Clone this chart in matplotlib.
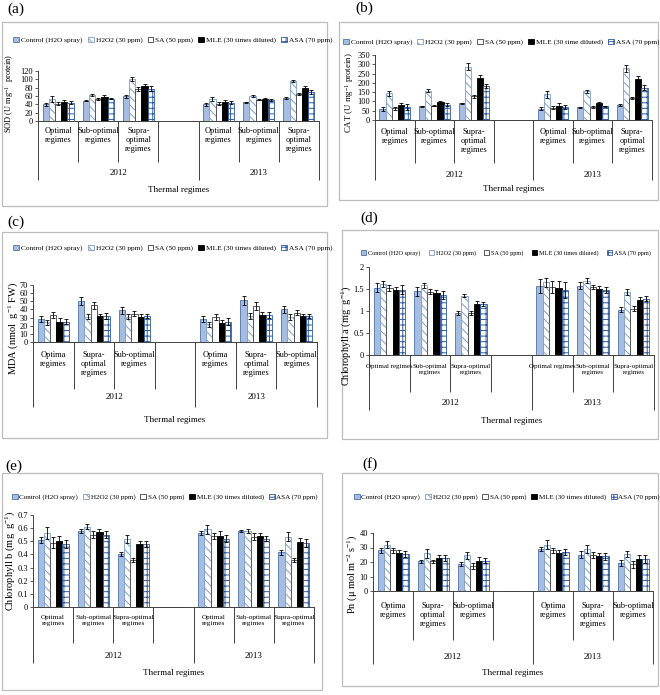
import matplotlib
matplotlib.use("Agg")
import matplotlib.pyplot as plt
import matplotlib.transforms as mtransforms
from matplotlib.patches import Patch, Rectangle
from matplotlib.ticker import FuncFormatter, MultipleLocator, FixedLocator

plt.rcParams['font.family'] = ['Liberation Serif', 'DejaVu Serif']
plt.rcParams['mathtext.fontset'] = 'custom'
plt.rcParams['mathtext.rm'] = 'Liberation Serif'
plt.rcParams['mathtext.it'] = 'Liberation Serif:italic'
plt.rcParams['mathtext.default'] = 'regular'
plt.rcParams['hatch.linewidth'] = 0.7

# ---------------- data ----------------
treatments = ["Control (H2O spray)", "H2O2 (30 ppm)", "SA (50 ppm)",
              "MLE (30 times diluted)", "ASA (70 ppm)"]
treatments_b = ["Control (H2O spray)", "H2O2 (30 ppm)", "SA (50 ppm)",
                "MLE (30 time diluted)", "ASA (70 ppm)"]
years = ["2012", "2013"]

# (a) SOD
sod_cats = ["Optimal\nregimes", "Sub-optimal\nregimes", "Supra-\noptimal\nregimes"]
sod_2012 = [[40, 53, 42, 46, 44], [49, 63, 53, 57, 54], [59, 101, 76, 84, 78]]
sod_2012_err = [[3, 7, 4, 5, 4], [2, 3, 3, 5, 2], [3, 5, 5, 4, 5]]
sod_2013 = [[40, 53, 42, 46, 44], [45, 60, 51, 52, 50], [55, 96, 65, 80, 70]]
sod_2013_err = [[3, 4, 3, 4, 3], [1, 3, 1, 3, 2], [3, 3, 2, 5, 4]]

# (b) CAT
cat_cats = ["Optimal\nregimes", "Sub-optimal\nregimes", "Supra-\noptimal\nregimes"]
cat_2012 = [[60, 143, 63, 79, 70], [73, 158, 78, 96, 83], [89, 287, 127, 227, 183]]
cat_2012_err = [[10, 15, 8, 13, 15], [5, 7, 4, 7, 6], [4, 20, 8, 15, 10]]
cat_2013 = [[60, 139, 65, 78, 70], [69, 154, 70, 91, 73], [83, 278, 118, 222, 175]]
cat_2013_err = [[8, 18, 8, 13, 12], [3, 7, 3, 5, 5], [5, 18, 6, 15, 12]]

# (c) MDA
mda_cats = ["Optima\nregimes", "Supra-\noptimal\nregimes", "Sub-optimal\nregimes"]
mda_2012 = [[28, 24, 33, 25, 25], [50, 31, 45, 32, 32], [39, 31, 35, 31, 32]]
mda_2012_err = [[4, 3, 4, 4, 3], [5, 3, 4, 3, 4], [4, 3, 3, 3, 3]]
mda_2013 = [[28, 22, 31, 23, 25], [51, 32, 44, 33, 33], [40, 31, 36, 32, 32]]
mda_2013_err = [[4, 3, 4, 4, 4], [5, 4, 5, 4, 4], [4, 4, 3, 3, 3]]

# (d) Chlorophyll a
chla_cats = ["Optimal regimes", "Sub-optimal\nregimes", "Supra-optimal\nregimes"]
chla_2012 = [[1.53, 1.61, 1.52, 1.48, 1.48], [1.45, 1.58, 1.44, 1.41, 1.37],
             [0.95, 1.35, 0.95, 1.17, 1.16]]
chla_2012_err = [[0.10, 0.07, 0.06, 0.07, 0.10], [0.10, 0.06, 0.06, 0.06, 0.09],
                 [0.05, 0.04, 0.05, 0.05, 0.04]]
chla_2013 = [[1.57, 1.65, 1.54, 1.52, 1.48], [1.57, 1.69, 1.55, 1.51, 1.48],
             [1.03, 1.43, 1.05, 1.25, 1.28]]
chla_2013_err = [[0.16, 0.11, 0.14, 0.17, 0.18], [0.08, 0.06, 0.05, 0.06, 0.06],
                 [0.05, 0.06, 0.06, 0.06, 0.05]]

# (e) Chlorophyll b
chlb_cats = ["Optimal\nregimes", "Sub-optimal\nregimes", "Supra-optimal\nregimes"]
chlb_2012 = [[0.51, 0.56, 0.49, 0.50, 0.48], [0.58, 0.61, 0.55, 0.57, 0.55],
             [0.40, 0.515, 0.36, 0.48, 0.48]]
chlb_2012_err = [[0.025, 0.045, 0.04, 0.04, 0.03], [0.015, 0.02, 0.025, 0.02, 0.025],
                 [0.015, 0.03, 0.015, 0.02, 0.02]]
chlb_2013 = [[0.56, 0.59, 0.54, 0.54, 0.52], [0.58, 0.575, 0.535, 0.54, 0.52],
             [0.415, 0.535, 0.36, 0.495, 0.49]]
chlb_2013_err = [[0.015, 0.035, 0.02, 0.04, 0.025], [0.008, 0.015, 0.025, 0.025, 0.02],
                 [0.02, 0.035, 0.015, 0.03, 0.03]]

# (f) Pn
pn_cats = ["Optima\nregimes", "Supra-\noptimal\nregimes", "Sub-optimal\nregimes"]
pn_2012 = [[28, 32, 28, 26, 25.5], [20.5, 26, 20.5, 23, 23], [18.5, 24.5, 17.5, 21, 21]]
pn_2012_err = [[2, 2.5, 2, 2.5, 2], [1, 3, 1, 2, 2], [1.5, 2.5, 2, 2.5, 2]]
pn_2013 = [[29, 32, 28, 26.5, 27], [25, 29, 25, 24, 24], [19.5, 25.5, 18.5, 22, 22]]
pn_2013_err = [[1.5, 3, 2, 2, 2], [2.5, 2.5, 2, 2.5, 2.5], [2, 2, 2.5, 3, 3]]

# ---------------- styling ----------------
W, H = 660, 695
fig = plt.figure(figsize=(W / 100, H / 100), dpi=100)


def fx(px):
    return px / W


def fy(py):
    return 1 - py / H


styles = [
    dict(facecolor='#A5BDE0', edgecolor='#4F72A8', hatch=None),
    dict(facecolor='white', edgecolor='#7F9CC9', hatch='\\\\\\\\'),
    dict(facecolor='white', edgecolor='#404040', hatch=None),
    dict(facecolor='black', edgecolor='black', hatch=None),
    dict(facecolor='white', edgecolor='#2F5A9E', hatch='+++'),
]

AXC = '#404040'


def fmt_g(v, pos):
    return ('%g' % round(v, 6))


def panel(p):
    x0, y0, x1, y1 = p['border']
    fig.add_artist(Rectangle((fx(x0), fy(y1)), (x1 - x0) / W, (y1 - y0) / H,
                             transform=fig.transFigure, fill=False,
                             edgecolor='#BDBDBD', lw=0.9))
    lx, ly = p['label']
    fig.text(fx(lx), fy(ly), p['name'], fontsize=11, ha='left', va='center')

    xl, xr, yt, yb = p['axes']
    ax = fig.add_axes([fx(xl), fy(yb), (xr - xl) / W, (yb - yt) / H])
    nslots = 7
    ax.set_xlim(0, nslots)
    ax.set_ylim(0, p['ymax'])
    ax.patch.set_alpha(0)
    for s in ['top', 'right']:
        ax.spines[s].set_visible(False)
    for s in ['left', 'bottom']:
        ax.spines[s].set_color(AXC)
        ax.spines[s].set_linewidth(0.7)
    ax.yaxis.set_major_locator(MultipleLocator(p['ystep']))
    ax.yaxis.set_major_formatter(FuncFormatter(fmt_g))
    ax.tick_params(axis='y', length=2.5, width=0.6, labelsize=6, pad=1.2,
                   colors=AXC, labelcolor='black')
    ax.xaxis.set_major_locator(FixedLocator([0, 4, 7]))
    ax.xaxis.set_minor_locator(FixedLocator([1, 2, 3, 5, 6]))
    ax.set_xticklabels([])
    ax.tick_params(axis='x', which='major', direction='out',
                   length=(p['year_bottom'] - yb) * 0.72, width=0.7, colors=AXC)
    ax.tick_params(axis='x', which='minor', direction='out',
                   length=(p['cat_bottom'] - yb) * 0.72, width=0.7, colors=AXC)

    w = 0.155
    data = [(0, p['d2012'], p['e2012']), (4, p['d2013'], p['e2013'])]
    for off, means, errs in data:
        for ci in range(len(means)):
            for j in range(5):
                xc = off + ci + 0.5 + (j - 2) * w
                st = styles[j]
                ax.bar(xc, means[ci][j], width=w, facecolor=st['facecolor'],
                       edgecolor=st['edgecolor'], hatch=st['hatch'], linewidth=0.6,
                       zorder=2)
                ax.errorbar(xc, means[ci][j], yerr=errs[ci][j], fmt='none',
                            ecolor='black', elinewidth=0.6, capsize=1.6,
                            capthick=0.6, zorder=3)

    blend = mtransforms.blended_transform_factory(ax.transData, fig.transFigure)
    cfs = p.get('catfs', 6)
    for off in (0, 4):
        for ci, lab in enumerate(p['cats']):
            ax.text(off + ci + 0.5, fy(p['cat_top']), lab, transform=blend,
                    ha='center', va='top', fontsize=cfs, linespacing=1.15)
    ax.text(2, fy(p['year_y']), years[0], transform=blend, ha='center',
            va='center', fontsize=6.5)
    ax.text(5.5, fy(p['year_y']), years[1], transform=blend, ha='center',
            va='center', fontsize=6.5)
    ax.text(3.5, fy(p['thermal_y']), "Thermal regimes", transform=blend,
            ha='center', va='center', fontsize=6.5)

    fig.text(fx(p['ylabel_x']), fy(p['ylabel_y']), p['ylabel'], rotation=90,
             ha='center', va='center', fontsize=p.get('ylfs', 7))

    handles = [Patch(facecolor=st['facecolor'], edgecolor=st['edgecolor'],
                     hatch=st['hatch'], linewidth=0.6) for st in styles]
    cx, cy = p['legend']
    fig.legend(handles, p['legend_labels'], loc='center',
               bbox_to_anchor=(fx(cx), fy(cy)), ncol=5, frameon=False,
               fontsize=p.get('legfs', 5.3), handlelength=0.8, handleheight=0.8,
               handletextpad=0.25, columnspacing=p.get('colsp', 0.7),
               borderaxespad=0, borderpad=0)
    return ax


panels = [
    dict(name='(a)', border=(2, 22, 327, 206), label=(7, 9),
         axes=(38, 319, 71, 121), ymax=120, ystep=20,
         legend=(173, 40), legend_labels=treatments,
         cat_bottom=162, year_bottom=180, cat_top=127, year_y=173, thermal_y=190,
         ylabel='SOD (U mg$^{-1}$  protein)', ylabel_x=10, ylabel_y=93, ylfs=6,
         cats=sod_cats, d2012=sod_2012, e2012=sod_2012_err,
         d2013=sod_2013, e2013=sod_2013_err),
    dict(name='(b)', border=(339, 22, 658, 200), label=(355, 8),
         axes=(375, 652, 55, 120), ymax=350, ystep=50,
         legend=(501, 42), legend_labels=treatments_b,
         cat_bottom=163, year_bottom=180, cat_top=128, year_y=175, thermal_y=189,
         ylabel='CAT (U mg$^{-1}$ protein)', ylabel_x=350, ylabel_y=93, ylfs=6.3,
         cats=cat_cats, d2012=cat_2012, e2012=cat_2012_err,
         d2013=cat_2013, e2013=cat_2013_err),
    dict(name='(c)', border=(2, 232, 327, 438), label=(7, 222),
         axes=(33, 317, 285, 342), ymax=70, ystep=10,
         legend=(173, 248), legend_labels=treatments,
         cat_bottom=389, year_bottom=407, cat_top=351, year_y=397, thermal_y=420,
         ylabel='MDA (nmol  g$^{-1}$ FW)', ylabel_x=13, ylabel_y=328, ylfs=7.5,
         cats=mda_cats, d2012=mda_2012, e2012=mda_2012_err,
         d2013=mda_2013, e2013=mda_2013_err),
    dict(name='(d)', border=(342, 230, 658, 439), label=(360, 218),
         axes=(369, 654, 267, 355), ymax=2, ystep=0.5,
         legend=(506, 253), legend_labels=treatments, legfs=4.5, colsp=1.4,
         cat_bottom=392, year_bottom=410, cat_top=364, year_y=403, thermal_y=421,
         ylabel='Chlorophyll a (mg  g$^{-1}$)', ylabel_x=346, ylabel_y=336, ylfs=7.5,
         catfs=5.0,
         cats=chla_cats, d2012=chla_2012, e2012=chla_2012_err,
         d2013=chla_2013, e2013=chla_2013_err),
    dict(name='(e)', border=(2, 473, 322, 690), label=(5, 466),
         axes=(33, 314, 515, 607), ymax=0.7, ystep=0.1,
         legend=(165, 497), legend_labels=treatments, legfs=5.1,
         cat_bottom=643, year_bottom=663, cat_top=615, year_y=656, thermal_y=673,
         ylabel='Chlorophyll b (mg  g$^{-1}$)', ylabel_x=10, ylabel_y=561, ylfs=7.5,
         catfs=5.2,
         cats=chlb_cats, d2012=chlb_2012, e2012=chlb_2012_err,
         d2013=chlb_2013, e2013=chlb_2013_err),
    dict(name='(f)', border=(342, 473, 658, 686), label=(362, 464),
         axes=(373, 653, 533, 591), ymax=40, ystep=10,
         legend=(507, 497), legend_labels=treatments, legfs=5.1,
         cat_bottom=640, year_bottom=664, cat_top=602, year_y=657, thermal_y=673,
         ylabel='Pn (\u03bc mol m$^{-2}$ s$^{-1}$)', ylabel_x=352, ylabel_y=574, ylfs=7.5,
         cats=pn_cats, d2012=pn_2012, e2012=pn_2012_err,
         d2013=pn_2013, e2013=pn_2013_err),
]

for p in panels:
    panel(p)

fig.savefig('out.png', dpi=100)
